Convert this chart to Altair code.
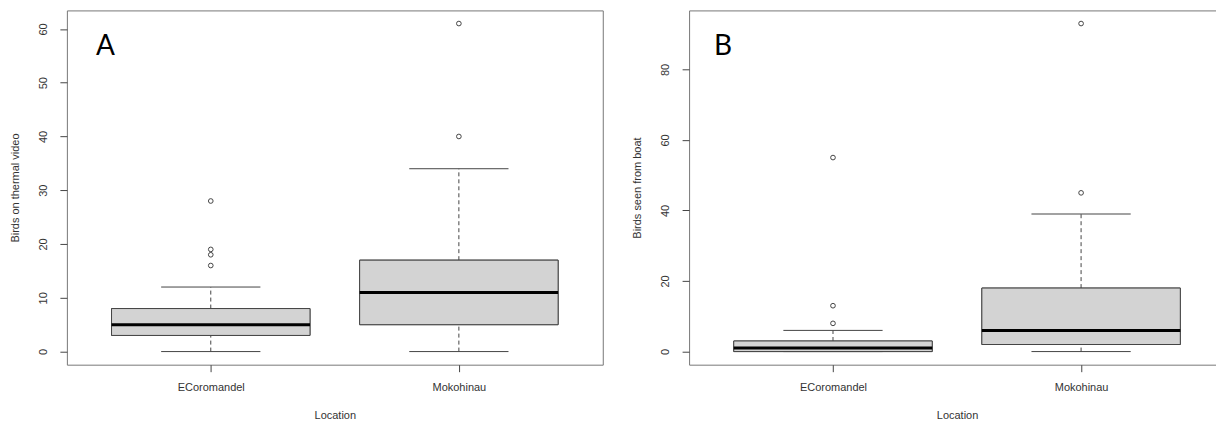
import altair as alt
import pandas as pd

locations = ["ECoromandel", "Mokohinau"]
positions = [1, 2]

# Panel A: Birds on thermal video
a_min = [0, 0]
a_q1 = [3, 5]
a_med = [5, 11]
a_q3 = [8, 17]
a_max = [12, 34]
a_out_pos = [1, 1, 1, 1, 2, 2]
a_out_val = [16, 18, 19, 28, 40, 61]

# Panel B: Birds seen from boat
b_min = [0, 0]
b_q1 = [0, 2]
b_med = [1, 6]
b_q3 = [3, 18]
b_max = [6, 39]
b_out_pos = [1, 1, 1, 2, 2]
b_out_val = [8, 13, 55, 45, 93]

a_ticks = [0, 10, 20, 30, 40, 50, 60]
b_ticks = [0, 20, 40, 60, 80]

panel_letters = ["A", "B"]
letter_x = [0.575, 0.557]
letter_y = [56.6, 86.3]

LINE = "#444444"
TEXT = "#333333"
FONT = "Liberation Sans"

label_expr = " : ".join(
    f"datum.value == {p} ? '{n}'" for p, n in zip(positions, locations)
) + " : ''"


def panel(mins, q1, med, q3, maxs, opos, oval, ticks, ydomain, ytitle, letter, lx, ly, width):
    stats = pd.DataFrame({"loc": locations, "pos": positions, "lo": mins, "q1": q1,
                          "med": med, "q3": q3, "hi": maxs})
    outs = pd.DataFrame({"pos": opos, "val": oval})
    lab = pd.DataFrame({"t": [letter], "x": [lx], "y": [ly]})

    xscale = alt.Scale(domain=[0.42, 2.58], nice=False, zero=False)
    yscale = alt.Scale(domain=ydomain, nice=False, zero=False)
    xaxis = alt.Axis(values=positions, labelExpr=label_expr, title="Location",
                     labelPadding=10, titlePadding=16.5, labelFlush=False, grid=False)
    yaxis = alt.Axis(values=ticks, title=ytitle, labelAngle=270, labelAlign="center",
                     labelBaseline="bottom", labelPadding=11.5, titlePadding=17, grid=False)

    base = alt.Chart(stats).transform_calculate(
        left="datum.pos - 0.4", right="datum.pos + 0.4",
        cl="datum.pos - 0.2", cr="datum.pos + 0.2")

    box = base.mark_rect(fill="#D3D3D3", stroke=LINE, strokeWidth=1).encode(
        x=alt.X("left:Q", scale=xscale, axis=xaxis),
        x2="right:Q",
        y=alt.Y("q1:Q", scale=yscale, axis=yaxis),
        y2="q3:Q")
    whisk_up = base.mark_rule(color=LINE, strokeWidth=1, strokeDash=[4, 3]).encode(
        x="pos:Q", y="q3:Q", y2="hi:Q")
    whisk_lo = base.mark_rule(color=LINE, strokeWidth=1, strokeDash=[4, 3]).encode(
        x="pos:Q", y="lo:Q", y2="q1:Q")
    cap_up = base.mark_rule(color=LINE, strokeWidth=1).encode(
        x="cl:Q", x2="cr:Q", y="hi:Q")
    cap_lo = base.mark_rule(color=LINE, strokeWidth=1).encode(
        x="cl:Q", x2="cr:Q", y="lo:Q")
    box2 = base.mark_rect(fill="#D3D3D3", stroke=LINE, strokeWidth=1).encode(
        x="left:Q", x2="right:Q", y="q1:Q", y2="q3:Q")
    median = base.mark_rule(color="black", strokeWidth=3).encode(
        x="left:Q", x2="right:Q", y="med:Q")
    pts = alt.Chart(outs).mark_point(shape="circle", filled=False, size=22,
                                      color=LINE, strokeWidth=1, opacity=1).encode(
        x="pos:Q", y="val:Q")
    txt = alt.Chart(lab).mark_text(font="Lato", fontSize=28, color="black",
                                   align="center", baseline="middle").encode(
        x="x:Q", y="y:Q", text="t:N")

    return alt.layer(box, whisk_up, whisk_lo, cap_up, cap_lo, box2, median, pts, txt).properties(
        width=width, height=355)


pa = panel(a_min, a_q1, a_med, a_q3, a_max, a_out_pos, a_out_val, a_ticks,
           [-2.44, 63.44], "Birds on thermal video", panel_letters[0], letter_x[0], letter_y[0], 537)
pb = panel(b_min, b_q1, b_med, b_q3, b_max, b_out_pos, b_out_val, b_ticks,
           [-3.72, 96.72], "Birds seen from boat", panel_letters[1], letter_x[1], letter_y[1], 537)

chart = alt.hconcat(pa, pb, spacing=27.5).properties(
    padding={"left": 1, "top": 1, "right": -9.5, "bottom": -1.5},
    background="white"
).configure_view(
    stroke="#777777", strokeWidth=1
).configure_axis(
    domain=False, grid=False, tickColor=LINE, tickSize=7, tickWidth=1,
    labelFont=FONT, labelFontSize=11, labelColor=TEXT,
    titleFont=FONT, titleFontSize=11, titleFontWeight="normal", titleColor=TEXT
)

chart.save("out.html", embed_options={"renderer": "svg", "actions": False})
